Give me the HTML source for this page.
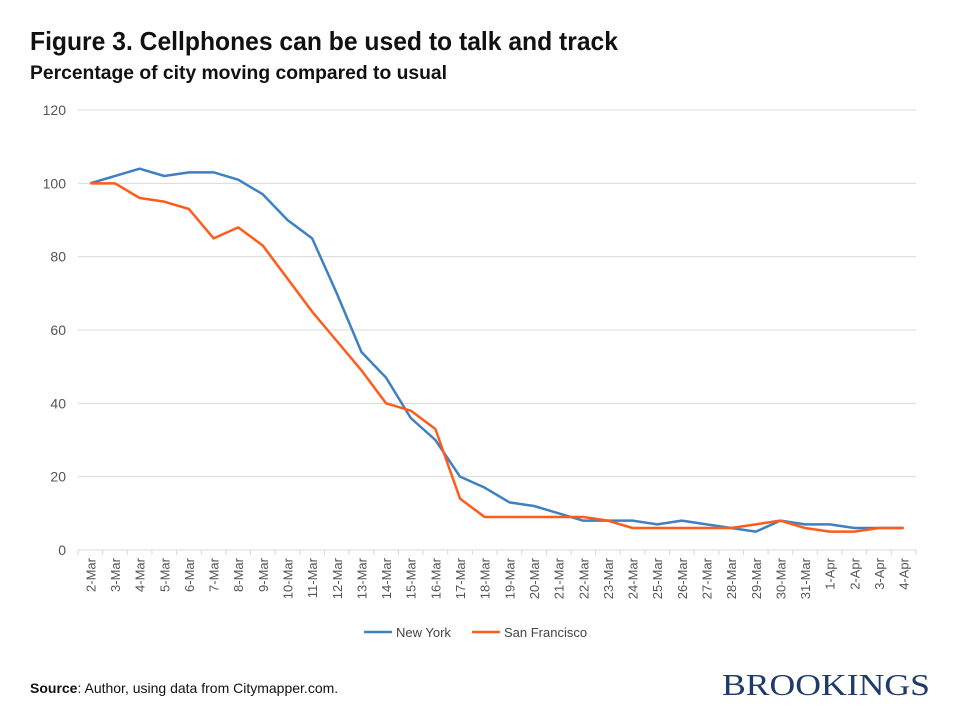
<!DOCTYPE html>
<html><head><meta charset="utf-8"><style>
body{margin:0;background:#fff;}
svg{display:block;font-family:"Liberation Sans",sans-serif;}
</style></head><body>
<svg id="chart" width="960" height="720" viewBox="0 0 960 720">
<text x="30" y="50" font-size="26" font-weight="bold" fill="#111" textLength="588" lengthAdjust="spacingAndGlyphs">Figure 3. Cellphones can be used to talk and track</text>
<text x="30" y="79" font-size="19" font-weight="bold" fill="#111" textLength="417" lengthAdjust="spacingAndGlyphs">Percentage of city moving compared to usual</text>
<g id="grid"></g><g id="xaxis"></g><g id="series"></g>
<g>
<line x1="364" y1="632" x2="392" y2="632" stroke="#3F80C2" stroke-width="2.5"/>
<text x="396" y="637" font-size="13" fill="#444">New York</text>
<line x1="472" y1="632" x2="500" y2="632" stroke="#FF5C1A" stroke-width="2.5"/>
<text x="504" y="637" font-size="13" fill="#444">San Francisco</text>
</g>
<text x="30" y="693" font-size="14" fill="#111"><tspan font-weight="bold">Source</tspan>: Author, using data from Citymapper.com.</text>
<text x="930" y="695" text-anchor="end" font-family="Liberation Serif,serif" font-size="31" fill="#1F3B6B" textLength="208" lengthAdjust="spacingAndGlyphs">BROOKINGS</text>
</svg>
<script>
const categories=["2-Mar","3-Mar","4-Mar","5-Mar","6-Mar","7-Mar","8-Mar","9-Mar","10-Mar","11-Mar","12-Mar","13-Mar","14-Mar","15-Mar","16-Mar","17-Mar","18-Mar","19-Mar","20-Mar","21-Mar","22-Mar","23-Mar","24-Mar","25-Mar","26-Mar","27-Mar","28-Mar","29-Mar","30-Mar","31-Mar","1-Apr","2-Apr","3-Apr","4-Apr"];
const newYork=[100,102,104,102,103,103,101,97,90,85,70,54,47,36,30,20,17,13,12,10,8,8,8,7,8,7,6,5,8,7,7,6,6,6];
const sanFrancisco=[100,100,96,95,93,85,88,83,74,65,57,49,40,38,33,14,9,9,9,9,9,8,6,6,6,6,6,7,8,6,5,5,6,6];
const yTicks=[0,20,40,60,80,100,120];
const NS="http://www.w3.org/2000/svg";
const L=78,R=916,T=110,B=550,yMax=120;
const bw=(R-L)/categories.length;
const xs=i=>L+bw*(i+0.5);
const ys=v=>B-(v/yMax)*(B-T);
function mk(tag,attrs,parent){const e=document.createElementNS(NS,tag);for(const k in attrs)e.setAttribute(k,attrs[k]);parent.appendChild(e);return e;}
const grid=document.getElementById('grid');
yTicks.forEach(v=>{
  const ln=mk('line',{x1:L,x2:R,y1:ys(v),y2:ys(v),stroke:'#d9d9d9','stroke-width':1},grid);
  
  
  const t=mk('text',{x:66,y:ys(v)+5,'text-anchor':'end','font-size':14,fill:'#555'},grid);
  t.textContent=v;
  
  
});
const xa=document.getElementById('xaxis');
for(let i=0;i<=categories.length;i++){
  const tk=mk('line',{x1:L+bw*i,x2:L+bw*i,y1:B,y2:B+5,stroke:'#d9d9d9'},xa);
  
  
}
categories.forEach((c,i)=>{
  const t=mk('text',{x:0,y:0,'text-anchor':'end','font-size':13,fill:'#555',transform:`translate(${xs(i)+5},${B+8}) rotate(-90)`},xa);
  t.textContent=c;
  
  
});
const sg=document.getElementById('series');
[[newYork,'#3F80C2','line-new-york'],[sanFrancisco,'#FF5C1A','line-san-francisco']].forEach(([d,col,name])=>{
  const p=mk('polyline',{points:d.map((v,i)=>xs(i)+','+ys(v)).join(' '),fill:'none',stroke:col,'stroke-width':2.5,'stroke-linejoin':'round'},sg);
  
  
});
</script>
</body></html>
